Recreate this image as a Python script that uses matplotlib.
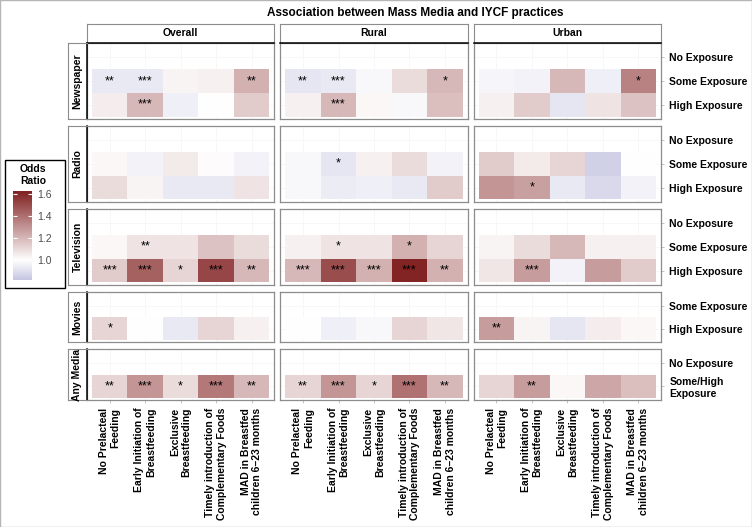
import numpy as np
import matplotlib
matplotlib.use('Agg')
import matplotlib.pyplot as plt
from matplotlib.colors import LinearSegmentedColormap, Normalize
from matplotlib.patches import Rectangle

plt.rcParams['font.family'] = ['Liberation Sans', 'DejaVu Sans']

practices = ['No Prelacteal\nFeeding', 'Early Initiation of\nBreastfeeding',
             'Exclusive\nBreastfeeding', 'Timely introduction of\nComplementary Foods',
             'MAD in Breastfed\nchildren 6\u201323 months']
areas = ['Overall', 'Rural', 'Urban']
media = ['Newspaper', 'Radio', 'Television', 'Movies', 'Any Media']
levels_three = ['No Exposure', 'Some Exposure', 'High Exposure']
levels_movies = ['Some Exposure', 'High Exposure']
levels_any = ['No Exposure', 'Some/High\nExposure']

# odds ratios for the non-reference levels, one block per area (Overall, Rural, Urban)
newspaper_or = [
    [[0.93, 0.93, 1.03, 1.04, 1.22], [1.05, 1.20, 0.95, 1.00, 1.15]],
    [[0.92, 0.93, 0.98, 1.10, 1.20], [1.04, 1.20, 1.02, 0.98, 1.18]],
    [[0.97, 0.96, 1.20, 0.95, 1.35], [1.04, 1.15, 0.92, 1.08, 1.17]],
]
newspaper_sig = [
    [['**', '***', '', '', '**'], ['', '***', '', '', '']],
    [['**', '***', '', '', '*'], ['', '***', '', '', '']],
    [['', '', '', '', '*'], ['', '', '', '', '']],
]
radio_or = [
    [[1.02, 0.96, 1.06, 1.01, 0.96], [1.10, 1.03, 0.93, 0.93, 1.08]],
    [[0.98, 0.92, 1.04, 1.10, 0.96], [0.98, 0.94, 0.95, 0.93, 1.15]],
    [[1.15, 1.06, 1.12, 0.85, 1.00], [1.30, 1.27, 0.93, 0.88, 0.96]],
]
radio_sig = [
    [['', '', '', '', ''], ['', '', '', '', '']],
    [['', '*', '', '', ''], ['', '', '', '', '']],
    [['', '', '', '', ''], ['', '*', '', '', '']],
]
television_or = [
    [[1.02, 1.08, 1.08, 1.17, 1.10], [1.15, 1.45, 1.12, 1.52, 1.20]],
    [[1.04, 1.08, 1.08, 1.22, 1.12], [1.20, 1.50, 1.22, 1.62, 1.22]],
    [[1.03, 1.10, 1.20, 1.04, 1.04], [1.07, 1.28, 0.96, 1.28, 1.15]],
]
television_sig = [
    [['', '**', '', '', ''], ['***', '***', '*', '***', '**']],
    [['', '*', '', '*', ''], ['***', '***', '***', '***', '**']],
    [['', '', '', '', ''], ['', '***', '', '', '']],
]
movies_or = [
    [[1.12, 1.00, 0.93, 1.12, 1.04]],
    [[1.00, 0.95, 0.98, 1.12, 1.07]],
    [[1.28, 1.03, 0.92, 1.05, 1.02]],
]
movies_sig = [
    [['*', '', '', '', '']],
    [['', '', '', '', '']],
    [['**', '', '', '', '']],
]
anymedia_or = [
    [[1.12, 1.30, 1.10, 1.38, 1.20]],
    [[1.12, 1.30, 1.12, 1.40, 1.20]],
    [[1.12, 1.28, 1.02, 1.25, 1.18]],
]
anymedia_sig = [
    [['**', '***', '*', '***', '**']],
    [['**', '***', '*', '***', '**']],
    [['', '**', '', '', '']],
]

panel_levels = [levels_three, levels_three, levels_three, levels_movies, levels_any]
panel_or = [newspaper_or, radio_or, television_or, movies_or, anymedia_or]
panel_sig = [newspaper_sig, radio_sig, television_sig, movies_sig, anymedia_sig]

cmap = LinearSegmentedColormap.from_list('or', ['#3A3A98', 'white', '#832424'])
norm = Normalize(vmin=0.38, vmax=1.62)
legend_min, legend_max = 0.82, 1.63
legend_ticks = [1.0, 1.2, 1.4, 1.6]

fig = plt.figure(figsize=(7.52, 5.27), dpi=100)
W, H = 752, 527
gs = fig.add_gridspec(5, 3, height_ratios=[len(l) for l in panel_levels],
                      left=87 / W, right=661 / W, top=1 - 43 / H, bottom=1 - 400 / H,
                      hspace=0.106, wspace=0.032)

panel_edge = '#8c8c8c'
for i, m in enumerate(media):
    levels = panel_levels[i]
    n = len(levels)
    for j, area in enumerate(areas):
        ax = fig.add_subplot(gs[i, j])
        grid = np.full((n, len(practices)), np.nan)
        grid[1:] = panel_or[i][j]
        ax.pcolormesh(np.arange(len(practices) + 1) - 0.5, np.arange(n + 1) - 0.5,
                      np.ma.masked_invalid(grid), cmap=cmap, norm=norm, zorder=2)
        for r, row in enumerate(panel_sig[i][j]):
            for c, s in enumerate(row):
                if s:
                    ax.text(c, r + 1, s, ha='center', va='center', fontsize=9,
                            color='black', zorder=3)
        ax.set_xlim(-0.64, len(practices) - 0.36)
        ax.set_ylim(n - 0.4, -0.6)
        ax.set_xticks(range(len(practices)))
        ax.set_yticks(range(n))
        ax.grid(color='#f6f6f6', lw=0.6, zorder=0)
        ax.set_axisbelow(True)
        for sp in ax.spines.values():
            sp.set_color(panel_edge)
            sp.set_linewidth(0.9)
        ax.tick_params(length=2, color='#bbbbbb', width=0.6)
        if i == len(media) - 1:
            ax.set_xticklabels(practices, rotation=90, fontsize=7.5, fontweight='bold',
                               ha='center', va='top', multialignment='right')
        else:
            ax.set_xticklabels([])
            ax.tick_params(axis='x', length=0)
        if j == len(areas) - 1:
            ax.yaxis.tick_right()
            ax.set_yticklabels(levels, fontsize=7.5, fontweight='bold')
            ax.tick_params(axis='y', pad=4)
        else:
            ax.set_yticklabels([])
            ax.tick_params(axis='y', length=0)

        pos = ax.get_position()
        if i == 0:
            sax = fig.add_axes([pos.x0, pos.y1, pos.width, 19 / H])
            sax.set_xticks([])
            sax.set_yticks([])
            for sp in sax.spines.values():
                sp.set_color(panel_edge)
            sax.spines['bottom'].set_color('black')
            sax.spines['bottom'].set_linewidth(1.1)
            sax.text(0.5, 0.5, area, ha='center', va='center', fontsize=7.5,
                     fontweight='bold', transform=sax.transAxes)
        if j == 0:
            rax = fig.add_axes([pos.x0 - 19 / W, pos.y0, 19 / W, pos.height])
            rax.set_xticks([])
            rax.set_yticks([])
            for sp in rax.spines.values():
                sp.set_color(panel_edge)
            rax.spines['right'].set_color('black')
            rax.spines['right'].set_linewidth(1.1)
            rax.text(0.5, 0.5, m, ha='center', va='center', rotation=90, fontsize=7.5,
                     fontweight='bold', transform=rax.transAxes)

fig.text(0.552, 0.976, 'Association between Mass Media and IYCF practices',
         ha='center', va='center', fontsize=8.5, fontweight='bold')

# legend
fig.patches.append(Rectangle((5 / W, 1 - 288 / H), 60 / W, 128 / H, transform=fig.transFigure,
                             fill=False, edgecolor='black', lw=1))
fig.text(33 / W, 1 - 175 / H, 'Odds\nRatio', ha='center', va='center', fontsize=7.5,
         fontweight='bold', linespacing=1.25)
cax = fig.add_axes([13 / W, 1 - 280 / H, 19 / W, 89 / H])
grad = np.linspace(legend_min, legend_max, 256)[:, None]
cax.imshow(grad, extent=[0, 1, legend_min, legend_max], origin='lower', aspect='auto',
           cmap=cmap, norm=norm)
cax.set_xticks([])
cax.set_yticks(legend_ticks)
cax.set_yticklabels([f'{t:.1f}' for t in legend_ticks], fontsize=7.5, color='#4d4d4d')
cax.tick_params(axis='y', direction='in', color='white', length=3, width=0.8,
                left=True, right=True, labelleft=False, labelright=True, pad=4)
for sp in cax.spines.values():
    sp.set_visible(False)

fig.patches.append(Rectangle((0, 0), 1, 1, transform=fig.transFigure, fill=False,
                             edgecolor='#b5b5b5', lw=1))

fig.savefig('out.png', dpi=100)
